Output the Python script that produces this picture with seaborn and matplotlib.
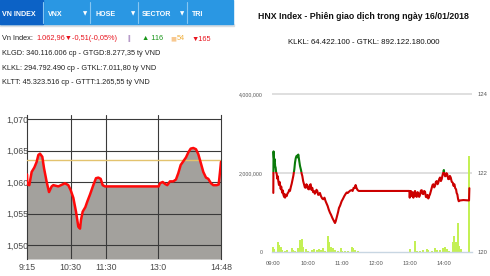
import numpy as np
import pandas as pd
import matplotlib
matplotlib.use("Agg")
import matplotlib.pyplot as plt
import seaborn as sns
from matplotlib.patches import Rectangle
from matplotlib.lines import Line2D

# ---------------- data: VN-Index intraday (minutes after 9:15) ----------------
vn_time = [0, 0.5, 4, 8, 12.6, 16.6, 19.5, 22.3, 26.3, 29.2, 33.8, 37.8, 42.3, 45.2,
           53.8, 65.2, 70.9, 75, 79.5, 84.1, 88.1, 91, 92.7, 95.6, 100.1, 103.5, 108.1,
           113.8, 118.4, 122.4, 126.5, 129.9, 133.9, 226, 228.3, 232.9, 236.9, 240.8,
           245.4, 251.1, 255.7, 259.7, 263.8, 268.4, 272.9, 276.9, 281, 285.5, 290.1,
           294.1, 298.1, 302.6, 307.2, 311.2, 315.8, 319.8, 325.6, 329, 331.3, 333]
vn_value = [1061.2, 1059.6, 1059.5, 1061.6, 1062.3, 1063.2, 1064.3, 1064.5, 1064.0, 1062.2,
            1060.0, 1058.4, 1059.3, 1059.5, 1059.3, 1059.8, 1059.5, 1058.7, 1057.5, 1055.3,
            1052.9, 1052.6, 1054.0, 1055.3, 1056.0, 1056.9, 1058.0, 1059.5, 1060.6, 1060.7,
            1060.5, 1059.5, 1059.3, 1059.3, 1059.8, 1060.0, 1059.7, 1059.5, 1060.1, 1060.1,
            1060.4, 1061.4, 1062.7, 1063.3, 1063.9, 1064.7, 1065.3, 1065.4, 1065.2, 1064.4,
            1063.1, 1061.6, 1060.7, 1060.5, 1059.8, 1059.5, 1059.5, 1059.6, 1061.6, 1063.2]
vn_ref = 1063.47
vn_ticks = [1050, 1055, 1060, 1065, 1070]
vn_tick_labels = ["1,050", "1,055", "1,060", "1,065", "1,070"]
vn_xticks = [0, 75, 135, 225, 333]
vn_xlabels = ["9:15", "10:30", "11:30", "13:0", "14:48"]

# ---------------- data: HNX-Index intraday (minutes after 9:00) ----------------
hnx_time = [0, 0.4, 1.0, 1.8, 2.5, 3.2, 4.1, 5.0, 5.9, 7.0, 8.0, 8.8, 10.0, 11.0, 11.7, 13.0,
            14.0, 14.7, 16.0, 17.0, 17.6, 19.0, 20.0, 20.6, 22.0, 23.5, 25.0, 26.4, 28.0,
            29.3, 31.0, 32.3, 34.0, 35.2, 37.0, 38.2, 39.5, 41.1, 42.5, 44.0, 45.0, 45.7,
            47.0, 48.7, 50.0, 51.0, 52.5, 54.0, 55.5, 56.9, 58.3, 59.8, 61.2, 62.7, 64.2,
            65.7, 67.0, 68.6, 70.0, 71.5, 73.0, 74.4, 76.0, 77.4, 79.0, 80.3, 82.0, 83.8,
            86.0, 87.9, 90.0, 92.0, 94.0, 95.6, 97.5, 99.7, 101.5, 103.8, 105.5, 107.3,
            108.5, 109.7, 111.0, 112.0, 114.0, 115.5, 117.5, 120.2, 122.5, 124.9, 127.0,
            129.0, 131.0, 133.1, 135.5, 137.8, 139.5, 141.3, 143.0, 144.8, 146.5, 148.4,
            150.5, 152.5, 239.3, 240.0, 240.5, 242.0, 243.5, 245.0, 246.4, 248.0, 249.3,
            250.8, 252.3, 253.7, 255.1, 256.6, 258.1, 259.6, 261.1, 262.5, 263.9, 265.4,
            266.9, 268.4, 269.9, 271.3, 272.7, 274.2, 275.7, 277.2, 278.7, 280.1, 281.5,
            283.0, 284.5, 286.0, 287.5, 289.0, 290.3, 291.8, 293.3, 294.8, 296.3, 297.7,
            299.1, 300.0, 300.9, 302.2, 303.4, 304.8, 306.2, 307.7, 309.2, 310.6, 312.1,
            313.9, 315.7, 317.0, 318.5, 320.0, 321.5, 322.5, 323.8, 325.0, 326.2, 328.5,
            334.3, 344.3, 344.9]
hnx_value = [121.50, 122.55, 122.40, 122.31, 122.35, 122.18, 122.14, 122.02, 121.99, 121.86,
             121.92, 121.80, 121.70, 121.78, 121.72, 121.60, 121.66, 121.57, 121.50, 121.56,
             121.46, 121.40, 121.47, 121.38, 121.44, 121.42, 121.49, 121.51, 121.58, 121.55,
             121.66, 121.73, 121.85, 121.93, 122.10, 122.27, 122.38, 122.44, 122.40, 122.47,
             122.38, 122.30, 122.18, 122.08, 121.98, 121.93, 121.80, 121.72, 121.64, 121.63,
             121.72, 121.68, 121.60, 121.59, 121.70, 121.72, 121.58, 121.63, 121.52, 121.55,
             121.48, 121.51, 121.58, 121.55, 121.45, 121.46, 121.50, 121.42, 121.36, 121.34,
             121.38, 121.29, 121.22, 121.17, 121.08, 121.00, 120.95, 120.87, 120.82, 120.77,
             120.74, 120.78, 120.85, 120.91, 121.02, 121.12, 121.18, 121.29, 121.35, 121.42,
             121.47, 121.51, 121.50, 121.53, 121.56, 121.57, 121.55, 121.63, 121.62, 121.70,
             121.62, 121.57, 121.55, 121.55, 121.55, 121.38, 121.48, 121.55, 121.42, 121.52,
             121.38, 121.50, 121.55, 121.42, 121.40, 121.52, 121.50, 121.40, 121.45, 121.56,
             121.57, 121.48, 121.47, 121.55, 121.53, 121.40, 121.39, 121.45, 121.36, 121.42,
             121.47, 121.55, 121.63, 121.70, 121.72, 121.64, 121.68, 121.78, 121.80, 121.72,
             121.76, 121.85, 121.89, 121.80, 121.85, 121.95, 122.02, 122.08, 121.98, 121.92,
             121.93, 122.00, 121.96, 121.85, 121.85, 121.93, 121.89, 121.78, 121.76, 121.68,
             121.72, 121.62, 121.59, 121.50, 121.46, 121.35, 121.29, 121.31, 121.32, 121.31,
             121.62]
hnx_ref = 122.02
vol_time = [0, 1.8, 8.8, 10.5, 12.9, 15.8, 20.6, 24.7, 32.3, 35.2, 38.2, 44, 46.9, 49.8,
            52.8, 56.9, 61.6, 67.5, 71.5, 76.2, 80.3, 83.8, 87.9, 90.9, 95.6, 97.9, 101.5,
            105.6, 108.5, 113.2, 118.5, 121.4, 126.1, 132, 137.8, 140.8, 143.7, 148.4,
            240.5, 249.3, 252.3, 258.1, 263.9, 269.9, 272.7, 278.7, 284.5, 287.5, 293.3,
            299.1, 302.1, 304.8, 309.7, 315.7, 318.5, 321.5, 324.3, 327.2, 329.7, 344.9]
vol_value = [145, 85, 255, 187, 128, 68, 43, 60, 110, 68, 43, 102, 323, 340, 128, 85, 43,
             68, 85, 60, 85, 60, 102, 43, 420, 255, 128, 102, 60, 43, 110, 43, 43, 35, 145,
             102, 60, 25, 85, 298, 43, 25, 60, 85, 68, 43, 110, 68, 60, 102, 145, 85, 43,
             255, 408, 255, 749, 170, 85, 2430]  # thousands of shares
hnx_xticks = [0, 60, 120, 180, 240, 300]
hnx_xlabels = ["09:00", "10:00", "11:00", "12:00", "13:00", "14:00"]
vol_ticks = [0, 2_000_000, 4_000_000]
vol_tick_labels = ["0", "2,000,000", "4,000,000"]
idx_ticks = [120, 122, 124]
idx_tick_labels = ["120", "122", "124"]

tabs = ["VN INDEX", "VNX", "HOSE", "SECTOR", "TRI"]
info_lines = ["KLGD: 340.116.006 cp - GTGD:8.277,35 tỷ VND",
              "KLKL: 294.792.490 cp - GTKL:7.011,80 tỷ VND",
              "KLTT: 45.323.516 cp - GTTT:1.265,55 tỷ VND"]
summary_parts = [("Vn Index: ", '#222222', 2), ("1.062,96▼-0,51(-0,05%)", '#e8141e', 36.5),
                 ("||", '#a07ab8', 127), ("▲ 116", '#1a961a', 142), ("■", '#f8c890', 170),
                 ("54", '#f0b040', 175), ("▼165", '#e8141e', 192)]
hnx_title = "HNX Index - Phiên giao dịch trong ngày 16/01/2018"
hnx_sub = "KLKL: 64.422.100 - GTKL: 892.122.180.000"

# ---------------- figure ----------------
sns.set_style("white")
plt.rcParams['font.family'] = ['Liberation Sans', 'DejaVu Sans']
FAM = ['Liberation Sans', 'DejaVu Sans']

W, H = 490, 276
fig = plt.figure(figsize=(W / 100, H / 100), dpi=100)


def fx(px):
    return px / W


def fy(py):
    return 1 - py / H


# header tab bar
fig.patches.append(Rectangle((0, fy(26)), fx(234), 2 / H, transform=fig.transFigure,
                             color='#d8dde2', zorder=0))
fig.patches.append(Rectangle((0, fy(24)), fx(233), 24 / H, transform=fig.transFigure,
                             color='#2a97e3', zorder=1))
fig.patches.append(Rectangle((0, fy(24)), fx(43), 24 / H, transform=fig.transFigure,
                             color='#0c62c6', zorder=2))
for sx in [43, 90, 138, 187]:
    fig.lines.append(Line2D([fx(sx), fx(sx)], [fy(2), fy(23)], transform=fig.transFigure,
                            color='#86c6f2', lw=0.8, zorder=3))
tab_x = [2.5, 48, 96, 142, 192]
for name, tx in zip(tabs, tab_x):
    fig.text(fx(tx), fy(14), name, color='white', fontsize=5.1, fontweight='bold',
             family=FAM, ha='left', va='center', zorder=4)
for ax_ in [83, 131, 180]:
    fig.text(fx(ax_), fy(14), "▼", color='white', fontsize=4.0, family=['DejaVu Sans'],
             ha='left', va='center', zorder=4)

# VN index summary line, placed left to right without overlap
renderer = fig.canvas.get_renderer()
yl = fy(39)
prev_end = 0
for txt, col, px in summary_parts:
    x0 = max(px, prev_end + 1)
    fs = 4.5 if txt == "■" else 5.3
    fam = ['DejaVu Sans'] if txt == "■" else FAM
    t = fig.text(fx(x0), yl, txt, color=col, fontsize=fs, family=fam, va='center')
    bb = t.get_window_extent(renderer)
    prev_end = bb.x1
for i, line in enumerate(info_lines):
    fig.text(fx(2), fy(53.5 + 14.5 * i), line, color='#222222', fontsize=5.3,
             family=FAM, va='center')

# ---------------- left chart: VN-Index ----------------
axL = fig.add_axes([fx(27), fy(259), fx(221 - 27), (259 - 115) / H])
y_bot = 1070 - (259 - 119) / 6.3
y_top = 1070 + (119 - 115) / 6.3
vn_df = pd.DataFrame({"t": vn_time, "v": vn_value})
axL.fill_between(vn_df["t"], vn_df["v"], y_bot, color='#a3a19d', lw=0, zorder=1)
for v in vn_ticks:
    axL.axhline(v, color='#3a3a3a', lw=0.8, zorder=2)
for t in vn_xticks[1:4]:
    axL.axvline(t, color='#3a3a3a', lw=0.8, zorder=2)
axL.axhline(vn_ref, color='#e3c36e', lw=1.0, zorder=3)
sns.lineplot(data=vn_df, x="t", y="v", ax=axL, color='#ff0a0a', lw=1.8, zorder=4)
axL.set_xlim(0, 333)
axL.set_ylim(y_bot, y_top)
axL.set_xlabel("")
axL.set_ylabel("")
axL.set_yticks(vn_ticks)
axL.set_yticklabels(vn_tick_labels)
axL.set_xticks(vn_xticks)
axL.set_xticklabels(vn_xlabels)
axL.tick_params(axis='y', length=0, pad=15, labelsize=6.3, labelcolor='#4a4a4a')
axL.tick_params(axis='x', length=0, pad=3, labelsize=6.3, labelcolor='#4a4a4a')
for lab in axL.get_yticklabels():
    lab.set_ha('left')
for s in ['top', 'bottom']:
    axL.spines[s].set_visible(False)
for s in ['left', 'right']:
    axL.spines[s].set_color('#3a3a3a')
    axL.spines[s].set_linewidth(0.8)

# ---------------- right chart: HNX-Index ----------------
fig.text(fx(363.5), fy(16.5), hnx_title, color='#111111', fontsize=6.3, fontweight='bold',
         family=FAM, ha='center', va='center')
fig.text(fx(364), fy(42.5), hnx_sub, color='#111111', fontsize=5.6, family=FAM,
         ha='center', va='center')

axR = fig.add_axes([fx(272), fy(252.3), fx(471.7 - 272), (252.3 - 90) / H])
vol_df = pd.DataFrame({"t": vol_time, "vol": np.array(vol_value) * 1000})
axR.bar(vol_df["t"], vol_df["vol"], width=3.4, color='#c4f055', lw=0, zorder=2)
for v in vol_ticks[1:]:
    axR.axhline(v, color='#d9d9d9', lw=1.2, zorder=1)
axR.set_xlim(-2.3, 349)
axR.set_ylim(0, 4.101e6)
axR.set_xticks(hnx_xticks)
axR.set_xticklabels(hnx_xlabels)
axR.set_yticks(vol_ticks)
axR.set_yticklabels(vol_tick_labels)
axR.tick_params(axis='x', length=3, width=0.8, color='#c8d6e2', pad=3, labelsize=4.2,
                labelcolor='#555555')
axR.tick_params(axis='y', length=0, pad=6.5, labelsize=3.8, labelcolor='#555555')
for s in ['top', 'left', 'right']:
    axR.spines[s].set_visible(False)
axR.spines['bottom'].set_color('#c8d6e2')
axR.spines['bottom'].set_linewidth(1.0)

ax2 = axR.twinx()
hnx_df = pd.DataFrame({"t": hnx_time, "v": hnx_value})
sns.lineplot(data=hnx_df, x="t", y="v", ax=ax2, color='#cc0000', lw=1.5, zorder=3)
sns.lineplot(data=hnx_df, x="t", y="v", ax=ax2, color='#0a7a0a', lw=1.5, zorder=3)
ax2.set_ylim(120, 124.101)
ax2.set_xlim(-2.3, 349)
red_line, green_line = ax2.get_lines()[-2:]
red_clip = Rectangle((-10, 119), 400, hnx_ref - 119, transform=ax2.transData)
green_clip = Rectangle((-10, hnx_ref), 400, 10, transform=ax2.transData)
red_line.set_clip_path(red_clip)
green_line.set_clip_path(green_clip)
ax2.set_yticks(idx_ticks)
ax2.set_yticklabels(idx_tick_labels)
ax2.tick_params(axis='y', length=0, pad=4.5, labelsize=4.2, labelcolor='#555555')
for lab in ax2.get_yticklabels():
    lab.set_ha('left')
ax2.set_xlabel("")
ax2.set_ylabel("")
axR.set_xlabel("")
for s in ['top', 'left', 'right', 'bottom']:
    ax2.spines[s].set_visible(False)

fig.savefig("out.png", dpi=100)
